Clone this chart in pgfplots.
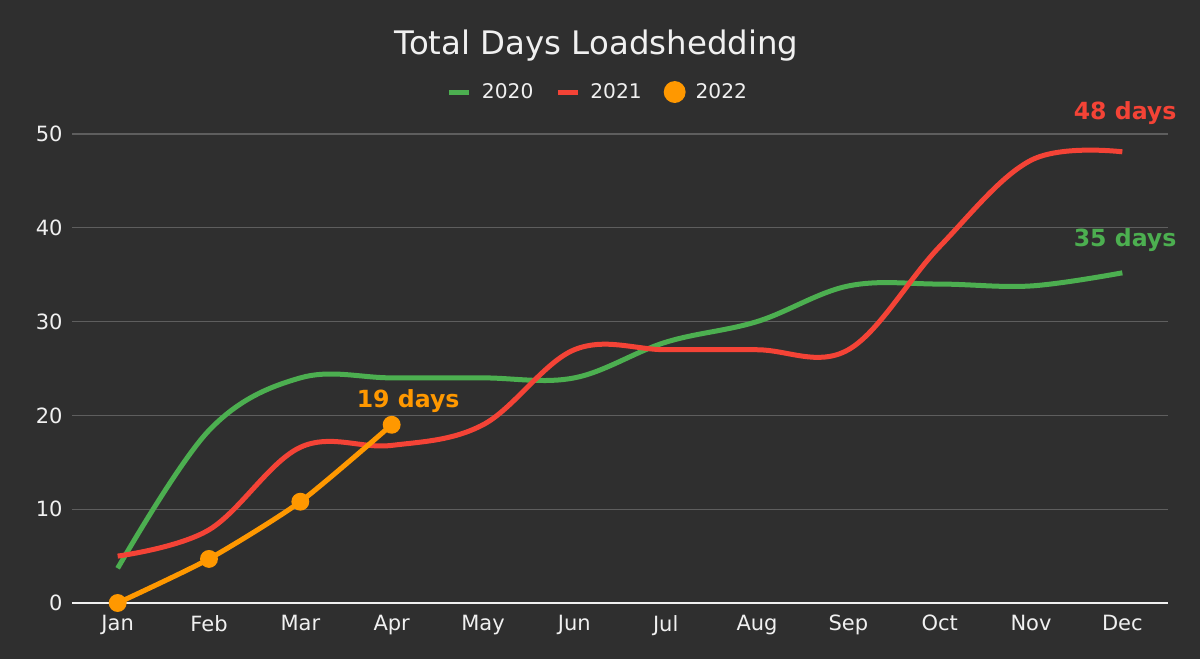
\documentclass[border=0pt]{standalone}
\usepackage{pgfplots}
\pgfplotsset{compat=1.18}
\usepackage{fontspec}
\setmainfont{DejaVu Sans}
\definecolor{bg}{HTML}{2F2F2F}
\definecolor{gridc}{HTML}{5E5E5E}
\definecolor{cgreen}{HTML}{4CAF50}
\definecolor{cred}{HTML}{F44336}
\definecolor{corange}{HTML}{FF9800}
\definecolor{txt}{HTML}{F0F0F0}
\begin{document}
\begin{tikzpicture}[x=1pt,y=1pt]
\fill[bg] (0,0) rectangle (600,329.5);
\useasboundingbox (0,0) rectangle (600,329.5);
\begin{axis}[
  at={(36pt,28pt)}, anchor=south west,
  scale only axis, width=548pt, height=234.5pt,
  xmin=-0.5, xmax=11.5, ymin=0, ymax=50,
  clip=false,
  axis line style={draw=none},
  tick style={draw=none},
  xtick={0,...,11},
  xticklabels={Jan,Feb,Mar,Apr,May,Jun,Jul,Aug,Sep,Oct,Nov,Dec},
  ytick={0,10,...,50},
  ymajorgrids,
  major grid style={color=gridc, line width=0.6pt},
  ticklabel style={font=\fontsize{10.5}{12}\selectfont, text=txt},
  /pgf/number format/assume math mode=true,
  xticklabel style={inner sep=0pt, yshift=-6pt},
  yticklabel style={inner sep=0pt, xshift=-4.5pt},
  legend style={at={(axis description cs:0.479,1.0895)}, anchor=center,
    draw=none, fill=none, text=txt, font=\fontsize{10.1}{12}\selectfont,
    legend columns=3,
    /tikz/every odd column/.append style={column sep=5pt},
    /tikz/every even column/.append style={column sep=11pt},
    nodes={inner sep=0pt}},
  legend image code/.code={\draw[line width=2.5pt] (0pt,0pt) -- (10pt,0pt);},
]
\draw[txt, line width=1pt] (axis cs:-0.5,0) -- (axis cs:11.5,0);
\addplot[cgreen, line width=2.5pt, smooth, tension=0.6] coordinates {
 (0,3.7) (1,18.4) (2,24) (3,24) (4,24) (5,24) (6,27.8) (7,30) (8,33.8) (9,34) (10,33.8) (11,35.2)};
\addlegendentry{2020}
\addplot[cred, line width=2.5pt, smooth, tension=0.6] coordinates {
 (0,5) (1,7.8) (2,16.6) (3,16.8) (4,19) (5,27) (6,27) (7,27) (8,27) (9,38) (10,47.2) (11,48.1)};
\addlegendentry{2021}
\addplot[corange, line width=2.5pt, smooth, tension=0.4, mark=*, mark size=3.2pt,
  legend image code/.code={\fill[corange] (4.2pt,0pt) circle (4.2pt);}] coordinates {
 (0,0) (1,4.7) (2,10.8) (3,19)};
\addlegendentry{2022}
\node[text=cred, font=\fontsize{11.8}{14}\selectfont\bfseries] at (axis cs:11.03,52.2) {48 days};
\node[text=cgreen, font=\fontsize{11.8}{14}\selectfont\bfseries] at (axis cs:11.03,38.7) {35 days};
\node[text=corange, font=\fontsize{11.8}{14}\selectfont\bfseries] at (axis cs:3.18,21.5) {19 days};
\end{axis}
\node[text=txt, font=\fontsize{16.2}{19}\selectfont] at (298.25,306.5) {Total Days Loadshedding};
\end{tikzpicture}
\end{document}
